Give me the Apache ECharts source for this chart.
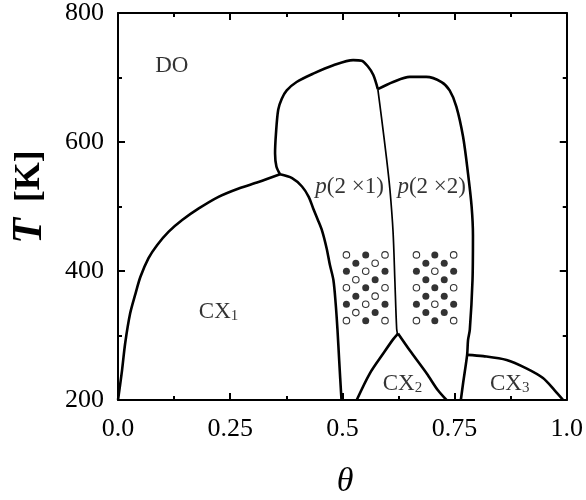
<!DOCTYPE html>
<html>
<head>
<meta charset="utf-8">
<script src="https://cdn.jsdelivr.net/npm/echarts@6/dist/echarts.min.js"></script>
<style>html,body{margin:0;padding:0;background:#fff;}#c{width:586px;height:500px;}</style>
</head>
<body>
<div id="c"></div>
<script>
// ---- data ----
const xTickValues = [0, 0.25, 0.5, 0.75, 1];
const xTickLabels = ['0.0', '0.25', '0.5', '0.75', '1.0'];
const yTickValues = [200, 400, 600, 800];
const yTickLabels = ['200', '400', '600', '800'];

// phase boundaries [theta, T]
const cx1Rise = [[0,200],[0.003,215],[0.009,246],[0.016,288],[0.027,334],[0.039,365],[0.050,391],[0.068,420],[0.087,440],[0.113,461],[0.143,479],[0.180,497],[0.224,515],[0.269,528],[0.313,538],[0.361,550]];
const cx1Fall = [[0.361,550],[0.388,544],[0.410,531],[0.425,515],[0.435,497],[0.445,480],[0.455,462],[0.465,435],[0.472,410],[0.480,386],[0.485,350],[0.489,310],[0.493,260],[0.498,200]];
const p21Top = [[0.361,550],[0.353,562],[0.350,582],[0.352,613],[0.357,650],[0.365,667],[0.376,680],[0.398,693],[0.435,706],[0.480,719],[0.524,727],[0.543,726],[0.557,717],[0.569,704],[0.579,682]];
const p21p22 = [[0.579,682],[0.587,639],[0.598,577],[0.606,526],[0.613,460],[0.617,385],[0.621,310],[0.623,302]];
const p22Dome = [[0.579,682],[0.613,693],[0.650,701],[0.687,701],[0.721,693],[0.739,680],[0.754,655],[0.769,608],[0.780,551],[0.788,500],[0.791,455],[0.790,386],[0.784,309],[0.780,293],[0.778,270],[0.769,226],[0.764,200]];
const cx2Left = [[0.532,200],[0.561,241],[0.591,272],[0.613,294],[0.624,303]];
const cx2Right = [[0.624,303],[0.650,277],[0.688,241],[0.713,215],[0.732,200]];
const cx3Dome = [[0.778,270],[0.814,268],[0.866,262],[0.910,249],[0.947,234],[0.973,215],[0.992,200]];

// lattice illustrations
const filledDots = [
  [0.552,425],[0.530,412],[0.509,399.5],[0.595,399.5],[0.573,386.5],[0.552,374],[0.530,361],[0.509,348.5],[0.595,348.5],[0.573,335.5],[0.552,323],
  [0.706,425],[0.686,412],[0.727,412],[0.665,399.5],[0.748,399.5],[0.686,386.5],[0.727,386.5],[0.706,374],[0.686,361],[0.727,361],[0.665,348.5],[0.748,348.5],[0.686,335.5],[0.727,335.5],[0.706,323]
];
const openDots = [
  [0.509,425],[0.595,425],[0.573,412],[0.552,399.5],[0.530,386.5],[0.509,374],[0.595,374],[0.573,361],[0.552,348.5],[0.530,335.5],[0.509,323],[0.595,323],
  [0.665,425],[0.748,425],[0.706,399.5],[0.665,374],[0.748,374],[0.706,348.5],[0.665,323],[0.748,323]
];

// region labels
const regionText = ['DO', '{m|CX}{s|1}', '{m|CX}{s|2}', '{m|CX}{s|3}', '{i|p}(2 ×1)', '{i|p}(2 ×2)'];
const regionX = [0.120, 0.224, 0.634, 0.873, 0.516, 0.699];
const regionY = [718, 337, 226, 226, 531, 531];

// ---- chart ----
const FONT = 'Liberation Serif, Times New Roman, serif';
const chart = echarts.init(document.getElementById('c'), null, {renderer: 'canvas'});

function lineSeries(data, w) {
  return {
    type: 'line', data: data, showSymbol: false, smooth: 0.3, silent: true,
    lineStyle: {color: '#000', width: w}, z: 3
  };
}
const axisCommon = {
  axisLine: {show: true, onZero: false, lineStyle: {color: '#000', width: 2}},
  axisTick: {show: true, inside: true, length: 7, lineStyle: {color: '#000', width: 2}},
  minorTick: {show: true, splitNumber: 2, length: 4, lineStyle: {color: '#000', width: 2}},
  splitLine: {show: false}
};

const option = {
  animation: false,
  backgroundColor: '#fff',
  grid: {left: 118, right: 19, top: 13, bottom: 100},
  xAxis: [
    Object.assign({type: 'value', min: 0, max: 1, interval: 0.25, position: 'bottom',
      axisLabel: {show: true, margin: 16, color: '#000', fontSize: 26, fontFamily: FONT,
        formatter: function (v) { const i = xTickValues.findIndex(t => Math.abs(t - v) < 1e-6); return i >= 0 ? xTickLabels[i] : ''; }}
    }, axisCommon),
    Object.assign({type: 'value', min: 0, max: 1, interval: 0.25, position: 'top', axisLabel: {show: false}}, axisCommon)
  ],
  yAxis: [
    Object.assign({type: 'value', min: 200, max: 800, interval: 200, position: 'left',
      axisLabel: {show: true, margin: 14, color: '#000', fontSize: 26, fontFamily: FONT,
        formatter: function (v) { const i = yTickValues.indexOf(v); return i >= 0 ? yTickLabels[i] : ''; }}
    }, axisCommon),
    Object.assign({type: 'value', min: 200, max: 800, interval: 200, position: 'right', axisLabel: {show: false}}, axisCommon)
  ],
  series: [
    lineSeries(cx1Rise, 2.6),
    lineSeries(cx1Fall, 2.6),
    lineSeries(p21Top, 2.6),
    lineSeries(p21p22, 1.7),
    lineSeries(p22Dome, 2.6),
    lineSeries(cx2Left, 2.6),
    lineSeries(cx2Right, 2.6),
    lineSeries(cx3Dome, 2.6),
    {type: 'scatter', data: filledDots, symbol: 'circle', symbolSize: 7, silent: true,
      itemStyle: {color: '#000'}, z: 4},
    {type: 'scatter', data: openDots, symbol: 'circle', symbolSize: 6.5, silent: true,
      itemStyle: {color: '#fff', borderColor: '#000', borderWidth: 1.1}, z: 4},
    {type: 'scatter', symbolSize: 0, silent: true, z: 5,
      data: regionText.map((t, i) => ({value: [regionX[i], regionY[i]], name: t})),
      label: {show: true, position: 'inside', formatter: p => p.name, color: '#000',
        fontFamily: FONT, fontSize: 23,
        rich: {
          m: {fontFamily: FONT, fontSize: 23, color: '#000', verticalAlign: 'bottom', lineHeight: 24},
          s: {fontFamily: FONT, fontSize: 15, color: '#000', verticalAlign: 'bottom', lineHeight: 14},
          i: {fontFamily: FONT, fontSize: 23, fontStyle: 'italic', color: '#000'}
        }}
    }
  ],
  graphic: [
    {type: 'text', x: 345, y: 482, silent: true,
      style: {text: 'θ', font: 'italic 34px ' + FONT, fill: '#000', align: 'center', verticalAlign: 'middle'}},
    {type: 'text', x: 30, y: 197, rotation: Math.PI / 2, silent: true,
      style: {text: '{t|T}{k| [K]}', align: 'center', verticalAlign: 'middle', fill: '#000',
        rich: {
          t: {fontFamily: FONT, fontSize: 42, fontStyle: 'italic', fontWeight: 'bold', fill: '#000'},
          k: {fontFamily: FONT, fontSize: 36, fontWeight: 'bold', fill: '#000', padding: [0, 0, 0, 7]}
        }}}
  ]
};
chart.setOption(option);
</script>
</body>
</html>
